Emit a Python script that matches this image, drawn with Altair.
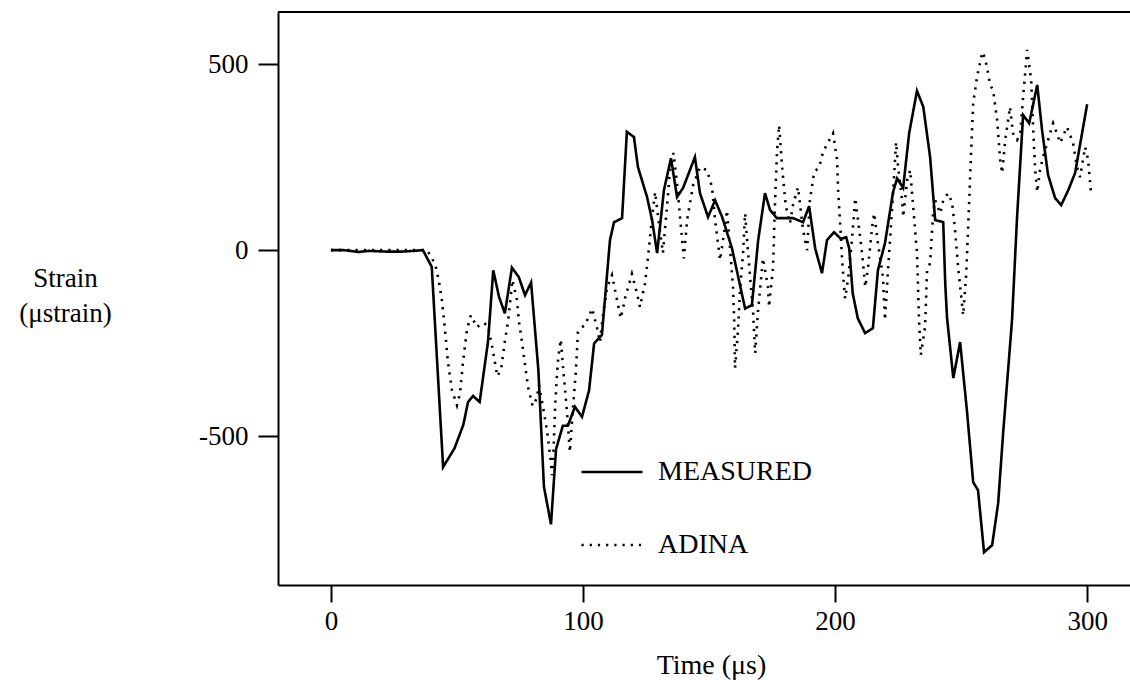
import altair as alt
import pandas as pd

# Measured strain record (time in microseconds, strain in microstrain)
measured_t = [0, 5, 11, 15, 22, 28, 33, 36.5, 40, 44.5, 49, 52.5, 54.4, 56.4, 59,
              62.3, 64.4, 66.7, 69, 71.8, 74.5, 77, 79.4, 82.3, 84.5, 87.3, 89.3,
              92, 94, 96.8, 99.6, 102.4, 104.4, 107.5, 110.7, 112.3, 115.5, 117.4,
              120.2, 121.8, 125.4, 127.4, 129.4, 132.1, 134.9, 137.3, 139.7, 144.4,
              146.4, 149.6, 152.4, 155.2, 159.1, 164.3, 167, 169.5, 172.2, 174.2,
              176.9, 183.3, 187.3, 189.7, 192.1, 194.8, 196.8, 199.6, 202.4, 204.4,
              205.6, 207, 209, 211.9, 215, 217, 219.8, 223, 224.6, 227, 229.4,
              232.5, 235, 237.7, 239.7, 242.9, 243.7, 244.4, 246.9, 249.6, 252.4,
              254.8, 256.7, 259.1, 262.3, 264.7, 266.7, 270.2, 272.2, 274.6, 277,
              280.2, 282.1, 284.5, 287.3, 289.7, 292.5, 295.2, 300]
measured_v = [0, 0, -5, -2, -4, -4, -2, 0, -45, -583, -533, -470, -408, -392, -408,
              -247, -54, -126, -170, -47, -72, -121, -87, -323, -636, -737, -535,
              -472, -472, -421, -448, -377, -251, -228, 27, 75, 86, 318,
              304, 223, 143, 81, -8, 161, 247, 143, 167, 250,
              153, 89, 134, 89, 5, -157, -148, 27, 153, 108,
              86, 86, 75, 118, 5, -62, 27, 48, 30, 35,
              5, -116, -183, -223, -210, -54, 19, 156, 193, 167, 315,
              428, 385, 250, 81, 75, -89, -180, -344, -247, -438,
              -624, -645, -812, -793, -680, -489, -188, 89, 363, 341,
              444, 323, 202, 140, 121, 161, 207, 392]

# ADINA finite-element prediction
adina_t = [0, 10, 20, 30, 38, 40, 41.7, 42.9, 44, 45.2, 46.4, 48, 50, 51.2, 52.4,
           54, 55.5, 57.9, 60.5, 62.3, 64, 66, 67.5, 69, 70.3, 72, 73.8, 74.6,
           75.8, 77, 78.2, 80, 81.7, 82.5, 84, 85.7, 87.3, 87.7, 88.3, 89, 89.7,
           90.2, 91.2, 92, 93, 93.8, 94.8, 96, 97.2, 98, 99.6, 100.8, 103.6,
           105.5, 106.7, 108, 109.5, 111.5, 113.5, 115, 116.7, 119.4, 121.4,
           122.6, 124.6, 125.8, 127.4, 128.6, 129.8, 131.7, 133.3, 134.5, 135.9,
           137.3, 138.5, 140, 141.3, 143.7, 146.4, 149.2, 151.2, 152.4, 154.4,
           156.3, 157.1, 158.3, 159.5, 160, 160.3, 161.5, 162.3, 163.5, 164.3,
           165.5, 167.5, 168.3, 169.4, 171.4, 173.4, 173.8, 175.4, 176.2, 177,
           177.8, 179, 180.2, 181, 182.1, 183.3, 185.3, 187.3, 188.9, 190, 191.7,
           193.7, 195.2, 197.2, 199.2, 200.8, 201.2, 202, 202.8, 203.6, 204,
           205.2, 206.7, 208, 209.1, 210.7, 212, 213.1, 214.7, 215.5, 217, 219,
           219.8, 221, 221.8, 223, 224.2, 225, 226.6, 227, 228.6, 229.8, 231,
           232.5, 233.3, 234, 235.7, 236.5, 237.7, 238.9, 239.7, 241.7, 242.9,
           244.8, 246.4, 247.6, 248.8, 250.4, 250.8, 252, 252.8, 254, 254.8,
           256.3, 258.3, 258.7, 260.3, 261.5, 262.7, 264.3, 265.5, 266.3, 267.5,
           269.4, 270.6, 272.2, 273.4, 274.6, 276.2, 277.8, 278.6, 279.4, 280.2,
           281.3, 282.5, 285.3, 286.5, 288, 289.3, 292, 294.4, 296, 297.2, 299.2,
           300.4, 301.6]
adina_v = [0, 0, 0, 0, 0, -19, -48, -86, -134, -210, -300, -376, -417, -385, -300,
           -212, -175, -207, -195, -204, -260, -339, -320, -245, -190, -80, -134, -193,
           -247, -309, -368, -419, -398, -363, -417, -484, -573, -605, -538, -412, -331,
           -288, -240, -309, -384, -449, -543, -425, -323, -220, -207, -202, -157,
           -207, -247, -170, -102, -67, -134, -183, -129, -64, -116,
           -153, -89, -19, 89, 156, 89, -8, 116, 215, 261,
           180, 89, -22, 81, 175, 223, 215, 169, 81, -27,
           62, 107, 8, -99, -193, -317, -215, -107, -8, 99,
           -8, -170, -277, -166, -22, -99, -153, -45, 134, 269,
           336, 223, 134, 99, 72, 121, 169, 54, 0, 134, 210,
           223, 263, 290, 314, 242, 161, 72, -27, -102, -130,
           -75, 27, 140, 81, -8, -99, -45, 62, 99, 19, -72,
           -188, -54, 27, 153, 290, 223, 134, 89, 188, 215, 116,
           -8, -188, -282, -207, -54, -35, 99, 134, 99, 134,
           153, 129, 54, -45, -148, -175, -67, 62, 269, 395,
           465, 529, 532, 492, 444, 430, 349, 242, 207, 296,
           385, 314, 296, 309, 411, 538, 457, 323, 215, 156,
           215, 250, 314, 341, 314, 288, 331, 288, 223, 196, 277,
           242, 148]

series_order = ["MEASURED", "ADINA"]
x_ticks = [0, 100, 200, 300]
y_ticks = [-500, 0, 500]
x_domain = [-21, 317]
y_domain = [-900, 640]

records = (
    [{"t": t, "strain": v, "series": "MEASURED"} for t, v in zip(measured_t, measured_v)]
    + [{"t": t, "strain": v, "series": "ADINA"} for t, v in zip(adina_t, adina_v)]
)
df = pd.DataFrame(records)

FONT = "Liberation Serif"

x_enc = alt.X(
    "t:Q",
    scale=alt.Scale(domain=x_domain, nice=False, zero=False),
    axis=alt.Axis(
        values=x_ticks, grid=False, tickSize=17, tickWidth=2, domainWidth=2,
        domainColor="black", tickColor="black", labelColor="black",
        labelFont=FONT, labelFontSize=27, labelPadding=6,
        title="Time (μs)", titleFont=FONT, titleFontSize=28,
        titleFontWeight="normal", titleColor="black",
        titleX=433, titleY=88, titleAlign="center", titleBaseline="alphabetic",
    ),
)
y_enc = alt.Y(
    "strain:Q",
    scale=alt.Scale(domain=y_domain, nice=False, zero=False),
    axis=alt.Axis(
        values=y_ticks, grid=False, tickSize=20, tickWidth=2, domainWidth=2,
        domainColor="black", tickColor="black", labelColor="black",
        labelFont=FONT, labelFontSize=27, labelPadding=10,
        labelExpr="replace(datum.label, '\u2212', '-')",
        title=["Strain", "(μstrain)"], titleFont=FONT, titleFontSize=27,
        titleFontWeight="normal", titleColor="black", titleAngle=0,
        titleX=-213, titleY=253, titleAlign="center", titleBaseline="top",
        titleLineHeight=35,
    ),
)

lines = alt.Chart(df).mark_line(color="black", strokeWidth=2.6).encode(
    x=x_enc,
    y=y_enc,
    strokeDash=alt.StrokeDash(
        "series:N",
        scale=alt.Scale(domain=series_order, range=[[1, 0], [2.2, 6]]),
        legend=alt.Legend(
            title=None, orient="none", legendX=302, legendY=428, padding=0,
            symbolType="stroke", symbolSize=3721, symbolStrokeWidth=2.6,
            symbolStrokeColor="black", labelFont=FONT, labelFontSize=28,
            labelColor="black", labelOffset=14, rowPadding=27,
        ),
    ),
    order="t:Q",
)

# top edge of the frame
top_edge = alt.Chart(pd.DataFrame({"strain": [y_domain[1]]})).mark_rule(
    color="black", strokeWidth=2
).encode(y=alt.Y("strain:Q"))

chart = alt.layer(lines, top_edge).properties(
    width=852,
    height=573,
    padding={"left": 278, "top": 12, "right": 0, "bottom": 95},
    autosize=alt.AutoSizeParams(type="none"),
    background="white",
).configure_view(stroke=None)

chart.save("out.html", embed_options={"renderer": "svg", "actions": False})
